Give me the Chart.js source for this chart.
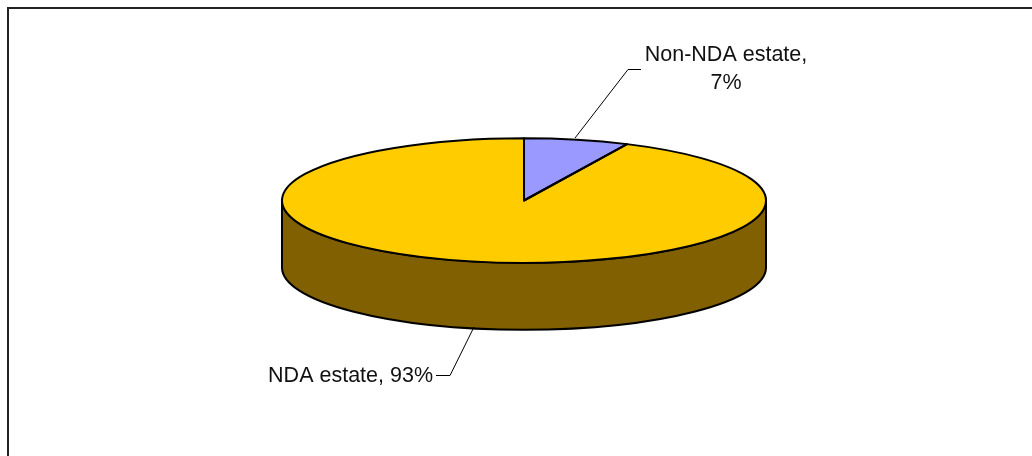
<!DOCTYPE html>
<html><head><meta charset="utf-8">
<script src="https://cdn.jsdelivr.net/npm/chart.js@4.4.1/dist/chart.umd.min.js"></script>
<style>html,body{margin:0;padding:0;background:#fff;overflow:hidden}#wrap{width:1032px;height:456px;position:relative}</style>
</head><body><div id="wrap"><canvas id="c" width="1032" height="456"></canvas></div>
<script>
// ---- data ----
const categories = ['Non-NDA estate', 'NDA estate'];
const shares = [7, 93];
const topColors = ['#9999FF', '#FFCC00'];
const sideColors = ['#4D4D80', '#806000'];

// ---- layout (not data) ----
const GEOM = {cx: 524, cy: 200.5, rx: 242, ry: 62.3, depth: 67};
const LABELS = [
  {lines: (c, p) => [c + ',', p + '%'], x: 726, y: [61, 88.5], align: 'center',
   leader: [[575, 138], [628, 69.5], [641, 69.5]]},
  {lines: (c, p) => [c + ', ' + p + '%'], x: 433, y: [382], align: 'right',
   leader: [[474, 327], [450, 375.5], [436, 375.5]]}
];

const pie3d = {
  id: 'pie3d',
  beforeDraw(chart) {
    const ctx = chart.ctx;
    ctx.save();
    ctx.fillStyle = '#fff';
    ctx.fillRect(0, 0, chart.width, chart.height);
    ctx.strokeStyle = '#222';
    ctx.lineWidth = 2;
    ctx.strokeRect(8, 8, 1200, 600);
    ctx.restore();
  },
  beforeDatasetsDraw(chart) {
    const ctx = chart.ctx;
    const g = GEOM;
    const meta = chart.getDatasetMeta(0);
    ctx.save();
    ctx.lineWidth = 2;
    ctx.strokeStyle = '#000';
    ctx.lineJoin = 'round';
    meta.data.forEach((el, i) => {
      const s = el.startAngle, e = el.endAngle;
      for (let k = -1; k <= 1; k++) {
        const a0 = Math.max(s + 2 * Math.PI * k, 0);
        const a1 = Math.min(e + 2 * Math.PI * k, Math.PI);
        if (a1 <= a0) continue;
        ctx.beginPath();
        ctx.ellipse(g.cx, g.cy, g.rx, g.ry, 0, a0, a1, false);
        ctx.lineTo(g.cx + g.rx * Math.cos(a1), g.cy + g.depth + g.ry * Math.sin(a1));
        ctx.ellipse(g.cx, g.cy + g.depth, g.rx, g.ry, 0, a1, a0, true);
        ctx.closePath();
        ctx.fillStyle = sideColors[i];
        ctx.fill();
        ctx.stroke();
      }
    });
    ctx.restore();
    const el = meta.data[0];
    ctx.save();
    ctx.translate(g.cx, g.cy);
    ctx.scale(g.rx / el.outerRadius, g.ry / el.outerRadius);
    ctx.translate(-el.x, -el.y);
  },
  afterDatasetsDraw(chart) {
    const ctx = chart.ctx;
    ctx.restore();
    const g = GEOM;
    const meta = chart.getDatasetMeta(0);
    ctx.save();
    ctx.lineWidth = 2;
    ctx.strokeStyle = '#000';
    ctx.lineJoin = 'round';
    meta.data.forEach((el) => {
      ctx.beginPath();
      ctx.moveTo(g.cx, g.cy);
      ctx.ellipse(g.cx, g.cy, g.rx, g.ry, 0, el.startAngle, el.endAngle, false);
      ctx.closePath();
      ctx.stroke();
    });
    ctx.font = '21.5px "Liberation Sans", Arial, sans-serif';
    ctx.fillStyle = '#111';
    ctx.textBaseline = 'alphabetic';
    ctx.lineWidth = 1;
    LABELS.forEach((L, i) => {
      const lines = L.lines(chart.data.labels[i], chart.data.datasets[0].data[i]);
      ctx.textAlign = L.align;
      lines.forEach((t, j) => ctx.fillText(t, L.x, L.y[j]));
      ctx.beginPath();
      L.leader.forEach((p, j) => j ? ctx.lineTo(p[0], p[1]) : ctx.moveTo(p[0], p[1]));
      ctx.stroke();
    });
    ctx.restore();
  }
};

new Chart(document.getElementById('c'), {
  type: 'pie',
  data: {
    labels: categories,
    datasets: [{
      data: shares,
      backgroundColor: topColors,
      borderWidth: 0,
      hoverOffset: 0,
      offset: 0,
      clip: false
    }]
  },
  options: {
    responsive: false,
    animation: false,
    events: [],
    layout: {padding: 20},
    plugins: {legend: {display: false}, tooltip: {enabled: false}}
  },
  plugins: [pie3d]
});
</script>
</body></html>
